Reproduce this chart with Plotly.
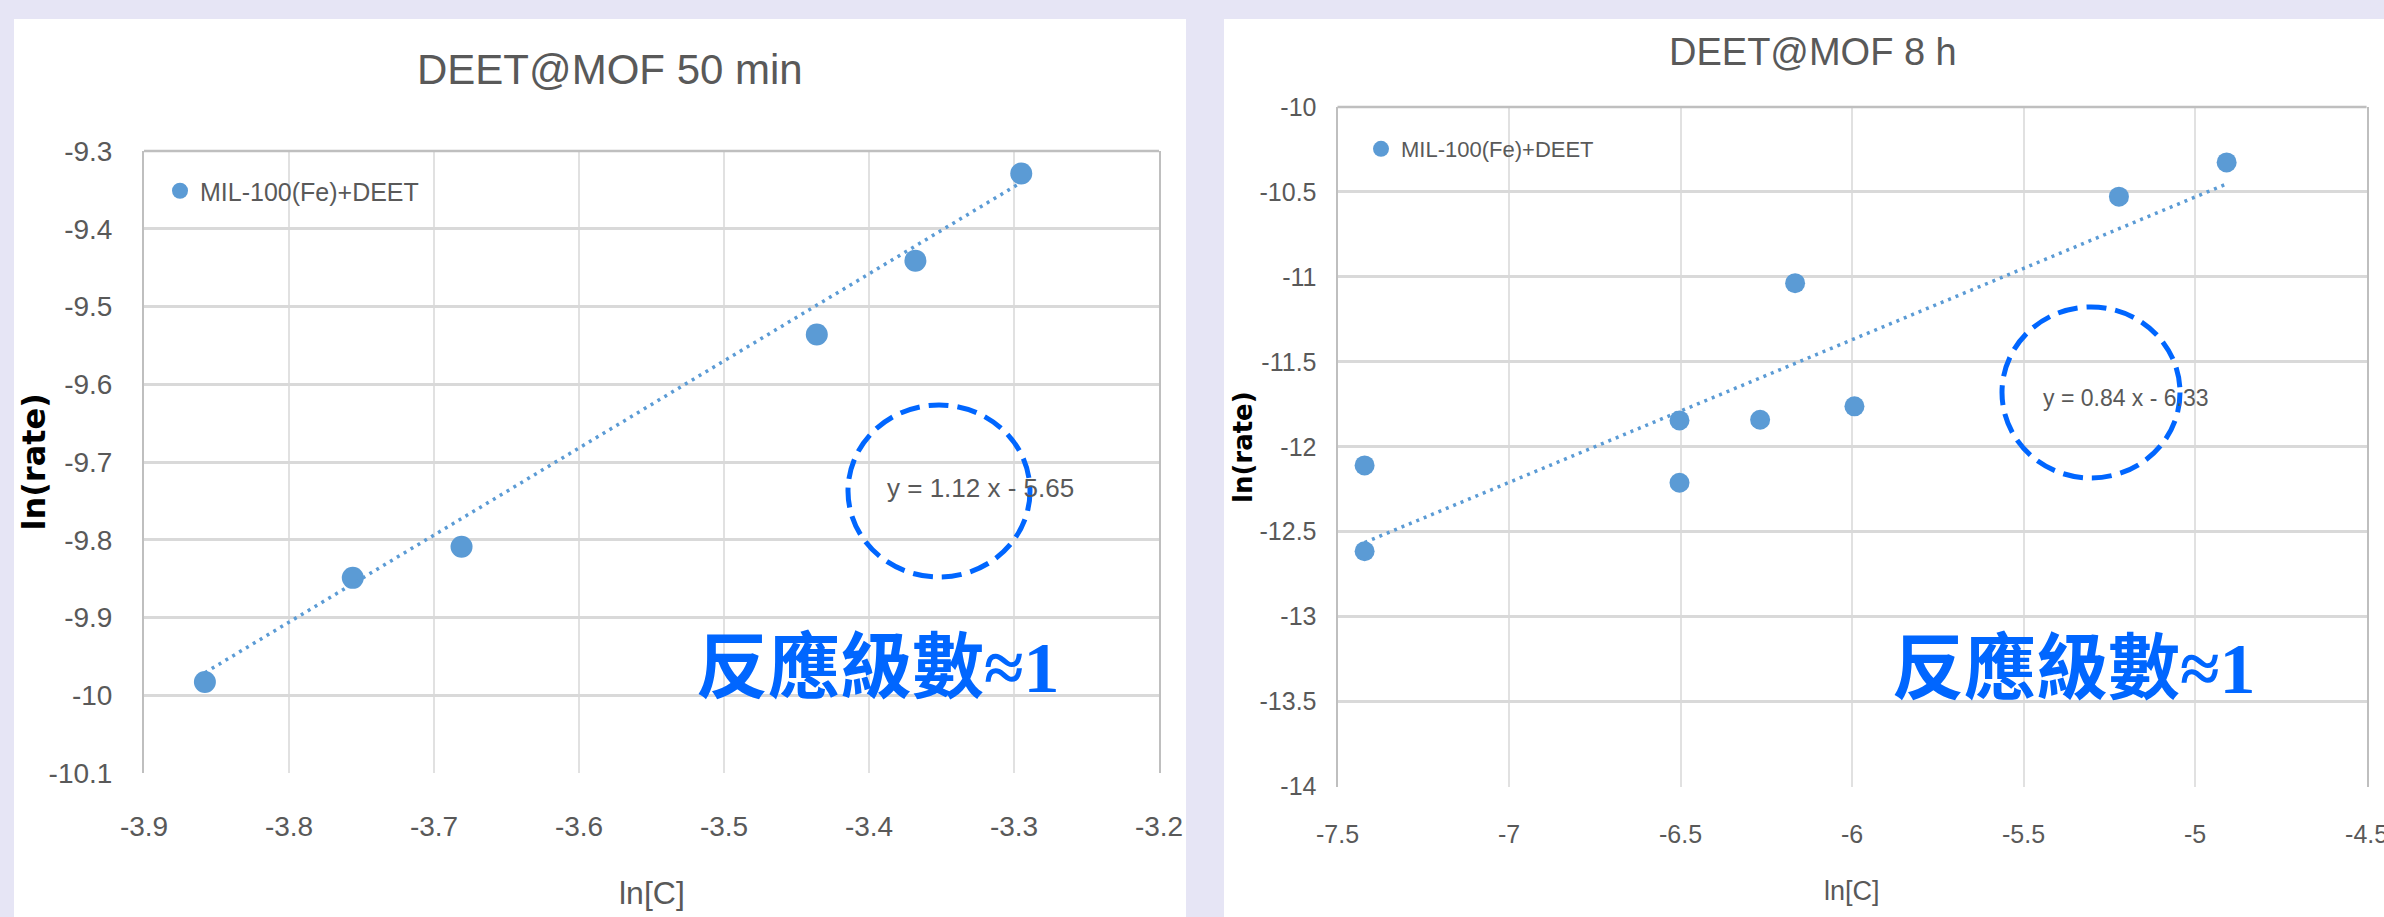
import plotly.graph_objects as go

# ---- 50 min run: ln[C] vs ln(rate) ----
ln_c_50 = [-3.858, -3.756, -3.681, -3.436, -3.368, -3.295]
ln_rate_50 = [-9.983, -9.849, -9.809, -9.536, -9.441, -9.329]
slope_50, intercept_50 = 1.12, -5.65

# ---- 8 h run ----
ln_c_8h = [-7.421, -7.421, -6.503, -6.503, -6.268, -6.166, -5.993, -5.222, -4.908]
ln_rate_8h = [-12.615, -12.110, -12.212, -11.845, -11.841, -11.037, -11.762, -10.528, -10.326]
slope_8h, intercept_8h = 0.84, -6.33

# axis ticks
x_ticks_50 = [-3.9, -3.8, -3.7, -3.6, -3.5, -3.4, -3.3, -3.2]
x_labels_50 = ["-3.9", "-3.8", "-3.7", "-3.6", "-3.5", "-3.4", "-3.3", "-3.2"]
y_ticks_50 = [-10.1, -10.0, -9.9, -9.8, -9.7, -9.6, -9.5, -9.4, -9.3]
y_labels_50 = ["-10.1", "-10", "-9.9", "-9.8", "-9.7", "-9.6", "-9.5", "-9.4", "-9.3"]
x_ticks_8h = [-7.5, -7.0, -6.5, -6.0, -5.5, -5.0, -4.5]
x_labels_8h = ["-7.5", "-7", "-6.5", "-6", "-5.5", "-5", "-4.5"]
y_ticks_8h = [-14.0, -13.5, -13.0, -12.5, -12.0, -11.5, -11.0, -10.5, -10.0]
y_labels_8h = ["-14", "-13.5", "-13", "-12.5", "-12", "-11.5", "-11", "-10.5", "-10"]

series_name = "MIL-100(Fe)+DEET"
titles = ["DEET@MOF 50 min", "DEET@MOF 8 h"]
order_label = "反應級數"

W, H = 2384, 917
SANS = "Liberation Sans Narrow, Liberation Sans, sans-serif"
GREY_TXT = "#595959"
BLUE_PT = "#5B9BD5"
BLUE_HL = "#0066FF"
BG = "#E6E5F5"


def px_x(v):
    return v / W


def px_y(v):
    return 1 - v / H


def fmt_eq(m, b):
    sign = "-" if b < 0 else "+"
    return f"y = {m:.2f} x {sign} {abs(b):.2f}"


fig = go.Figure()

# scatter points + linear trend lines
for xs, ys, m, b, xa, ya, leg, msize in [
    (ln_c_50, ln_rate_50, slope_50, intercept_50, "x", "y", "legend", 22),
    (ln_c_8h, ln_rate_8h, slope_8h, intercept_8h, "x2", "y2", "legend2", 20),
]:
    fig.add_trace(go.Scatter(
        x=xs, y=ys, mode="markers", name=series_name,
        marker=dict(color=BLUE_PT, size=msize),
        xaxis=xa, yaxis=ya, legend=leg,
    ))
    x_lo, x_hi = min(xs), max(xs)
    fig.add_trace(go.Scatter(
        x=[x_lo, x_hi], y=[m * x_lo + b, m * x_hi + b], mode="lines",
        line=dict(color=BLUE_PT, width=3.5, dash="3px,5px"),
        xaxis=xa, yaxis=ya, showlegend=False, hoverinfo="skip",
    ))

# plot area positions (pixels)
L_plot = dict(x0=144, x1=1159, y0=151, y1=773)
R_plot = dict(x0=1337.5, x1=2366.6, y0=107, y1=786.5)


def axis_pair(p, xt, xl, yt, yl, xr, yr, tick_size, xstand, ystand):
    xa = dict(
        domain=[px_x(p["x0"]), px_x(p["x1"])], range=xr, automargin=False,
        tickvals=xt, ticktext=xl, showgrid=True, gridcolor="#E1E1E1", gridwidth=1.5,
        zeroline=False, showline=False, ticks="", ticklabeloverflow="allow",
        tickfont=dict(family=SANS, size=tick_size, color=GREY_TXT),
        ticklabelstandoff=xstand, fixedrange=True,
    )
    ya = dict(
        domain=[px_y(p["y1"]), px_y(p["y0"])], range=yr, automargin=False,
        tickvals=yt, ticktext=yl, showgrid=True, gridcolor="#D9D9D9", gridwidth=3,
        zeroline=False, showline=True, mirror=True, linecolor="#BFBFBF", linewidth=2,
        ticks="", tickfont=dict(family=SANS, size=tick_size, color=GREY_TXT),
        ticklabelstandoff=ystand, fixedrange=True,
    )
    return xa, ya


xa1, ya1 = axis_pair(L_plot, x_ticks_50, x_labels_50, y_ticks_50, y_labels_50,
                     [-3.9, -3.2], [-10.1, -9.3], 28, 34, 24)
xa2, ya2 = axis_pair(R_plot, x_ticks_8h, x_labels_8h, y_ticks_8h, y_labels_8h,
                     [-7.5, -4.5], [-14, -10], 25, 30, 14)
ya2["anchor"] = "x2"
xa2["anchor"] = "y2"

shapes = [
    # white chart panels
    dict(type="rect", xref="paper", yref="paper", layer="below",
         x0=px_x(14), x1=px_x(1186), y0=0, y1=px_y(19),
         fillcolor="white", line=dict(width=0)),
    dict(type="rect", xref="paper", yref="paper", layer="below",
         x0=px_x(1224), x1=1, y0=0, y1=px_y(19),
         fillcolor="white", line=dict(width=0)),
    # top border of each plot area
    dict(type="line", xref="x domain", yref="y domain", x0=0, x1=1, y0=1, y1=1,
         line=dict(color="#BFBFBF", width=2.5)),
    dict(type="line", xref="x2 domain", yref="y2 domain", x0=0, x1=1, y0=1, y1=1,
         line=dict(color="#BFBFBF", width=2.5)),
    # dashed highlight circles around the fit equations
    dict(type="circle", xref="paper", yref="paper",
         x0=px_x(848), x1=px_x(1030), y0=px_y(577), y1=px_y(405),
         line=dict(color=BLUE_HL, width=5, dash="20px,9px")),
    dict(type="circle", xref="paper", yref="paper",
         x0=px_x(2002), x1=px_x(2180), y0=px_y(478), y1=px_y(307),
         line=dict(color=BLUE_HL, width=5, dash="20px,9px")),
]


def note(text, x, y, size, color=GREY_TXT, family=SANS, angle=0, weight="normal"):
    return dict(text=text, xref="paper", yref="paper", x=px_x(x), y=px_y(y),
                xanchor="center", yanchor="middle", showarrow=False, textangle=angle,
                font=dict(family=family, size=size, color=color, weight=weight))


order_html = (f"<b>{order_label}<span style=\"font-family:Liberation Serif\">≈1</span></b>")

annotations = [
    note(titles[0], 610, 69, 42),
    note(titles[1], 1813, 52, 38),
    note("ln[C]", 652, 893, 32),
    note("ln[C]", 1852, 891, 27),
    note("ln(rate)", 33.5, 462, 32, color="black", family="DejaVu Sans", angle=-90, weight="bold"),
    note("ln(rate)", 1243, 447, 26, color="black", family="DejaVu Sans", angle=-90, weight="bold"),
    note(fmt_eq(slope_50, intercept_50), 980, 488, 26),
    note(fmt_eq(slope_8h, intercept_8h), 2126, 398, 23),
    note(order_html, 878, 660, 72, color=BLUE_HL, family="Noto Sans CJK TC"),
    note(order_html, 2074, 661, 72, color=BLUE_HL, family="Noto Sans CJK TC"),
]

fig.update_layout(
    width=W, height=H, margin=dict(l=0, r=0, t=0, b=0, pad=0, autoexpand=False),
    paper_bgcolor=BG, plot_bgcolor="white",
    xaxis=xa1, yaxis=ya1, xaxis2=xa2, yaxis2=ya2,
    shapes=shapes, annotations=annotations,
    legend=dict(x=px_x(160), y=px_y(191), xanchor="left", yanchor="middle",
                bgcolor="rgba(0,0,0,0)", itemsizing="trace",
                font=dict(family=SANS, size=25, color=GREY_TXT)),
    legend2=dict(x=px_x(1361), y=px_y(149), xanchor="left", yanchor="middle",
                 bgcolor="rgba(0,0,0,0)", itemsizing="trace",
                 font=dict(family=SANS, size=22, color=GREY_TXT)),
    showlegend=True,
)

fig.write_html("out.html")
